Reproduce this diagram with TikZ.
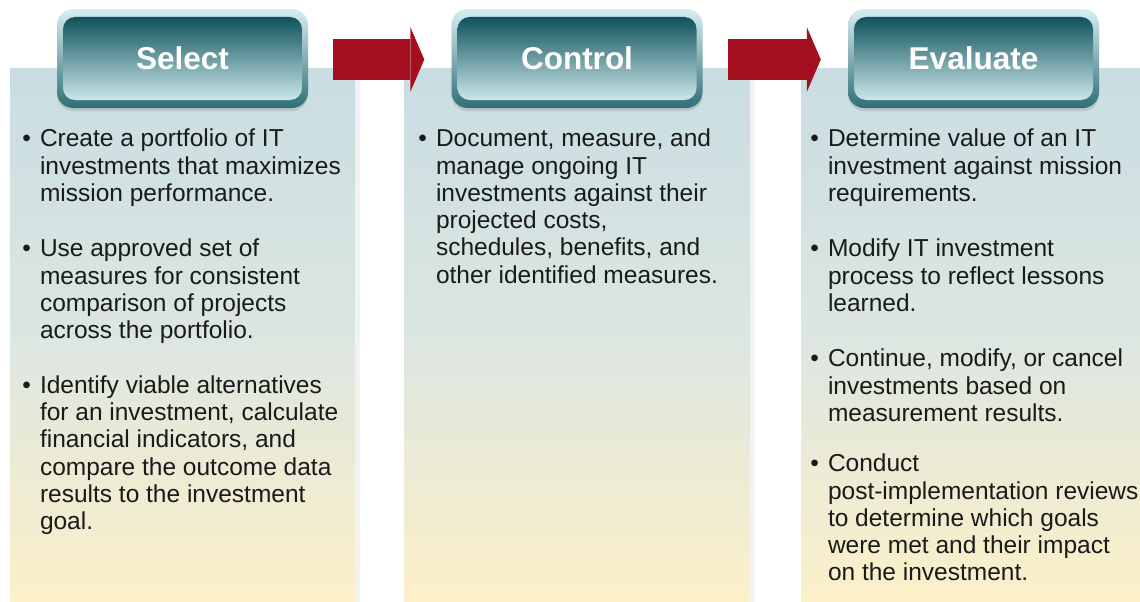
\documentclass[tikz,border=0pt]{standalone}
\usepackage{fontspec}
\setmainfont{Liberation Sans}
\usetikzlibrary{arrows.meta,calc,shadows}
\definecolor{panetop}{HTML}{C9DDE2}
\definecolor{panemid}{HTML}{DCE6E1}
\definecolor{panebot}{HTML}{FCF0C8}
\definecolor{rimtop}{HTML}{D8EEF1}
\definecolor{rimbot}{HTML}{2F6E76}
\definecolor{titletop}{HTML}{0F525C}
\definecolor{titlebot}{HTML}{CBE7EA}
\definecolor{arrowred}{HTML}{A30F1F}
\definecolor{ink}{HTML}{1A1A1A}
\tikzstyle{pane}=[inner sep=0, outer sep=0, anchor=north west, minimum height=533pt,
                  top color=panetop, bottom color=panebot, middle color=panemid]
\tikzstyle{paneshade}=[fill=black, opacity=0.05]
\tikzstyle{rim}=[rounded corners=16pt, minimum width=251pt, minimum height=99pt, inner sep=0,
                 top color=rimtop, bottom color=rimbot,
                 drop shadow={shadow xshift=0pt, shadow yshift=-3pt, opacity=0.25}]
\tikzstyle{titlebox}=[rounded corners=12pt, minimum width=239pt, minimum height=83pt, inner sep=0,
                 top color=titletop, bottom color=titlebot, text=white,
                 font=\fontsize{31.5}{36}\selectfont\bfseries]
\tikzstyle{point}=[anchor=north west, align=left, inner sep=0, outer sep=0, text=ink,
                   font=\fontsize{24.5}{27.3}\selectfont]
\tikzstyle{dot}=[anchor=north east, inner sep=0, outer sep=0, text=ink,
                 font=\fontsize{24.5}{27.3}\selectfont]
\tikzstyle{flow}=[line width=41pt, draw=arrowred,
                  -{Triangle[width=65pt, length=14pt, line width=0pt, fill=arrowred]}]
\begin{document}
\begin{tikzpicture}[x=1pt, y=-1pt]
    \useasboundingbox (0,0) rectangle (1140,602);
    % panels
    \fill[paneshade] (12,71) rectangle (360,602);
    \fill[paneshade] (406,71) rectangle (755,602);
    \node[pane, minimum width=345pt] (selpanel) at (10,69) {};
    \node[pane, minimum width=346pt] (ctlpanel) at (404,69) {};
    \node[pane, minimum width=339pt] (evapanel) at (801,69) {};
    % headers
    \node[rim] (selhead) at (182.5,58.5) {};
    \node[titlebox] (seltitle) at (selhead.center) {Select};
    \node[rim] (ctlhead) at (577,58.5) {};
    \node[titlebox] (ctltitle) at (ctlhead.center) {Control};
    \node[rim] (evahead) at (973.5,58.5) {};
    \node[titlebox] (evatitle) at (evahead.center) {Evaluate};
    \draw[flow] ($(selhead.east)+(25,1)$) -- ($(ctlhead.west)+(-27,1)$);
    \draw[flow] ($(ctlhead.east)+(25,1)$) -- ($(evahead.west)+(-27,1)$);
    % select items
    \node[point] (s1) at (40,127.6) {\strut Create a portfolio of IT\\investments that maximizes\\mission performance.};
    \node[point] (s2) at (40,237.6) {\strut Use approved set of\\measures for consistent\\comparison of projects\\across the portfolio.};
    \node[point] (s3) at (40,374.2) {\strut Identify viable alternatives\\for an investment, calculate\\financial indicators, and\\compare the outcome data\\results to the investment\\goal.};
    % control items
    \node[point] (c1) at (436,127.6) {\strut Document, measure, and\\manage ongoing IT\\investments against their\\projected costs,\\schedules, benefits, and\\other identified measures.};
    % evaluate items
    \node[point] (e1) at (828,127.6) {\strut Determine value of an IT\\investment against mission\\requirements.};
    \node[point] (e2) at (828,237.6) {\strut Modify IT investment\\process to reflect lessons\\learned.};
    \node[point] (e3) at (828,347.6) {\strut Continue, modify, or cancel\\investments based on\\measurement results.};
    \node[point] (e4) at (828,452.6) {\strut Conduct\\post-implementation reviews\\to determine which goals\\were met and their impact\\on the investment.};
    \foreach \n in {s1,s2,s3,c1,e1,e2,e3,e4}
        \node[dot] at ($(\n.north west)+(-9,0)$) {\strut\textbullet};
\end{tikzpicture}
\end{document}
